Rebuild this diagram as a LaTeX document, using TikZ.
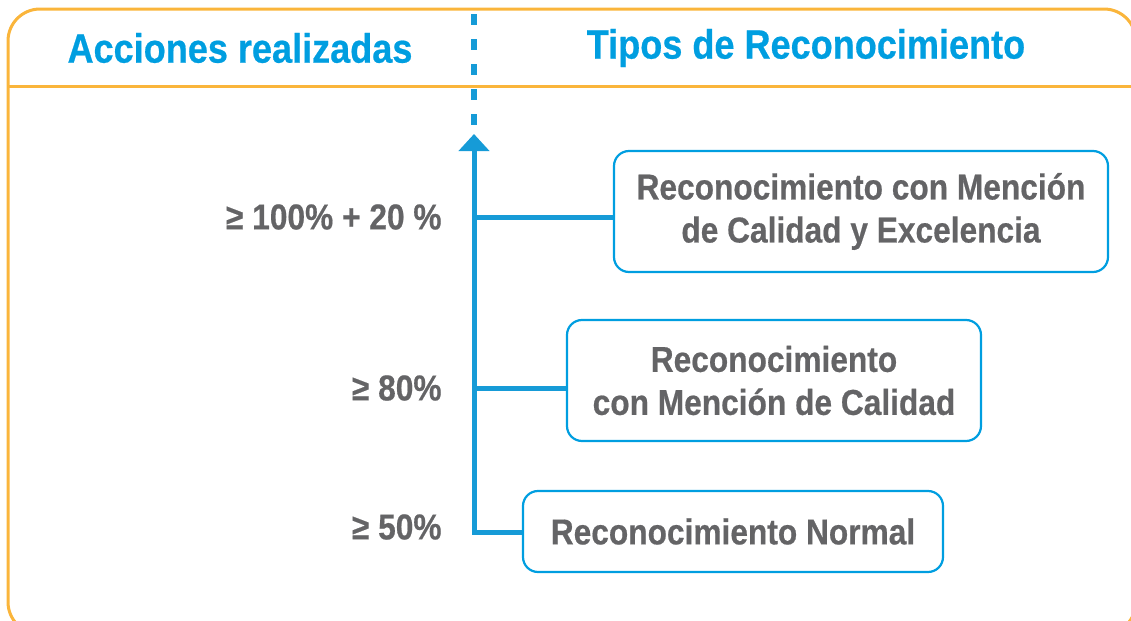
\documentclass[tikz,border=0pt]{standalone}
\usepackage{fontspec}
\setmainfont{Liberation Sans}[FakeStretch=0.88,BoldFeatures={FakeBold=0.5}]
\usetikzlibrary{arrows.meta,positioning}

\definecolor{frameorange}{RGB}{250,181,59}
\definecolor{headblue}{RGB}{0,158,224}
\definecolor{axisblue}{RGB}{22,155,215}
\definecolor{textgrey}{RGB}{100,100,102}

\begin{document}
\begin{tikzpicture}[x=0.5pt,y=-0.5pt]
       \tikzstyle{title}=[font=\bfseries\fontsize{20.5}{24}\selectfont,text=headblue]
       \tikzstyle{level}=[font=\bfseries\fontsize{18}{21.5}\selectfont,text=textgrey,anchor=east,inner sep=0pt]
       \tikzstyle{level box}=[draw=headblue,line width=1.1pt,rounded corners=7.5pt,inner sep=0pt,
                              font=\bfseries\fontsize{18}{21.5}\selectfont,text=textgrey,align=center]
       \tikzstyle{axis}=[draw=axisblue,line width=2.5pt]

       \useasboundingbox (0,0) rectangle (1131,621);
       \draw[frameorange,line width=1.5pt,rounded corners=16pt] (8,9) rectangle (1136,634);
       \draw[frameorange,line width=1.5pt] (8,86) -- (1136,86);

       \node[title] (t_0) at (240,48) {Acciones realizadas};
       \node[title] (t_1) at (806,48) {Tipos de Reconocimiento};

       \node[level box,minimum width=247pt,minimum height=60.5pt] (r_2) at (861,211.5)
            {Reconocimiento con Mención\\de Calidad y Excelencia};
       \node[level box,minimum width=207pt,minimum height=60.5pt] (r_1) at (774,380.5)
            {Reconocimiento\\con Mención de Calidad};
       \node[level box,minimum width=210pt,minimum height=40.5pt] (r_0) at (733,531.5)
            {Reconocimiento Normal};

       \coordinate (b_0) at (474,532);
       \coordinate (b_1) at (474,388);
       \coordinate (b_2) at (474,217);
       \coordinate (a_top) at (474,134);
       \coordinate (d_0) at (474,129);
       \coordinate (d_1) at (474,14);

       \node[level] (p_0) at (442,527) {≥ 50\%};
       \node[level] (p_1) at (442,388) {≥ 80\%};
       \node[level] (p_2) at (442,217) {≥ 100\% + 20 \%};

       \draw[axis,-{Triangle[width=15pt,length=8.5pt]}] (b_0 -| r_0.west) -- (b_0) -- (a_top);
       \draw[axis] (b_1) -- (b_1 -| r_1.west);
       \draw[axis] (b_2) -- (b_2 -| r_2.west);
       \draw[axisblue,line width=2.6pt,dash pattern=on 5.5pt off 7pt] (d_1) -- (d_0);

     \end{tikzpicture}
\end{document}
